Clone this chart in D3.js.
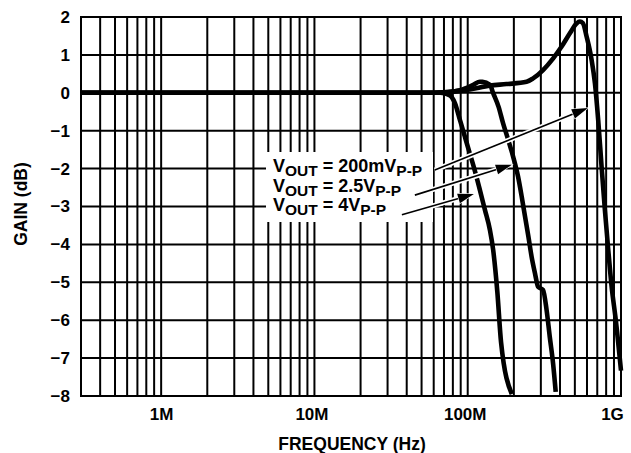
<!DOCTYPE html>
<html>
<head>
<meta charset="utf-8">
<script src="https://cdn.jsdelivr.net/npm/d3@7"></script>
<style>
  html, body { margin: 0; padding: 0; background: #fff; }
  svg text { font-family: "Liberation Sans", Arial, Helvetica, sans-serif; font-weight: bold; fill: #000; }
</style>
</head>
<body>
<svg id="chart" width="631" height="453"></svg>
<script>
// ---- data (frequency in MHz, gain in dB) ----
const freq4V   = [0.3, 10, 50, 66, 76, 82.5, 89, 96, 103, 111, 120, 129.5, 139.6, 146.6, 156, 165, 194];
const gain4V   = [0, 0, 0, 0, -0.06, -0.27, -0.72, -1.17, -1.59, -2.04, -2.56, -3.09, -3.62, -4.15, -5.25, -6.58, -7.95];

const freq2V5  = [0.3, 10, 60, 75, 89, 108.6, 120, 125, 139.6, 146.6, 159, 170, 184, 198, 213, 225, 236.6, 249, 261, 274.6, 288, 310, 327, 343, 360.5, 375];
const gain2V5  = [0, 0, 0, 0.02, 0.07, 0.21, 0.29, 0.29, 0.21, -0.01, -0.37, -0.80, -1.25, -1.69, -2.21, -2.74, -3.27, -3.80, -4.32, -4.76, -5.12, -5.20, -5.73, -6.44, -7.14, -7.89];

const freq200m = [0.3, 10, 60, 80, 103, 139.6, 179, 242, 267, 310, 361, 410, 464, 513, 539, 564, 597, 643, 676, 710, 747, 785, 826, 869, 925, 1000];
const gain200m = [0, 0, 0, 0.03, 0.09, 0.19, 0.23, 0.29, 0.38, 0.60, 0.91, 1.22, 1.57, 1.83, 1.88, 1.84, 1.48, 0.87, 0.25, -0.72, -1.95, -3.09, -4.15, -5.12, -6.0, -7.33];

const xTickValues = [1, 10, 100, 1000];
const xTickLabels = ["1M", "10M", "100M", "1G"];
const yTickValues = [2, 1, 0, -1, -2, -3, -4, -5, -6, -7, -8];

const legendLabels = [
  { main: "V", sub: "OUT", mid: " = 200mV", sub2: "P-P" },
  { main: "V", sub: "OUT", mid: " = 2.5V", sub2: "P-P" },
  { main: "V", sub: "OUT", mid: " = 4V", sub2: "P-P" }
];
// arrow start/end in data coordinates (MHz, dB)
const arrowFrom = [[61, -2.04], [45.2, -2.70], [37.2, -3.22]];
const arrowTo   = [[608, -0.40], [194, -1.90], [109.7, -2.67]];

// ---- layout ----
const L = 81, R = 621, T = 17, B = 396;
const xLabelShift = [0, -3, -3, -9];
const svg = d3.select("#chart");

const x = d3.scaleLog().domain([0.3, 1000]).range([L, R]);
const y = d3.scaleLinear().domain([-8, 2]).range([B, T]);

// grid verticals: every 1..9 multiple per decade
const vGrid = [];
[0.1, 1, 10, 100].forEach(d => {
  for (let k = 1; k <= 9; k++) {
    const v = d * k;
    if (v > 0.3 + 1e-9 && v < 1000 - 1e-9) vGrid.push(v);
  }
});

const grid = svg.append("g");
grid.selectAll("line.v").data(vGrid).enter().append("line")
  .attr("x1", d => x(d)).attr("x2", d => x(d))
  .attr("y1", T).attr("y2", B)
  .attr("stroke", "#000").attr("stroke-width", 2);
grid.selectAll("line.h").data(yTickValues).enter().append("line")
  .attr("x1", L).attr("x2", R)
  .attr("y1", d => y(d)).attr("y2", d => y(d))
  .attr("stroke", "#000").attr("stroke-width", 2);
svg.append("rect").attr("x", L).attr("y", T).attr("width", R - L).attr("height", B - T)
  .attr("fill", "none").attr("stroke", "#000").attr("stroke-width", 2);

// white box behind legend text
svg.append("rect").attr("x", 266).attr("y", 152).attr("width", 167).attr("height", 70).attr("fill", "#fff");

// axes labels
const yAxis = d3.axisLeft(y).tickValues(yTickValues).tickSize(0).tickPadding(11).tickFormat(d3.format("d"));
const gy = svg.append("g").attr("transform", `translate(${L},0)`).call(yAxis);
gy.select(".domain").remove();
gy.selectAll("text").style("font-size", "17px").style("font-family", "Liberation Sans, Arial, sans-serif").style("font-weight", "bold");

const xAxis = d3.axisBottom(x).tickValues(xTickValues).tickSize(0).tickPadding(12)
  .tickFormat((d, i) => xTickLabels[i]);
const gx = svg.append("g").attr("transform", `translate(0,${B})`).call(xAxis);
gx.select(".domain").remove();
gx.selectAll("text").style("font-size", "17px").style("font-family", "Liberation Sans, Arial, sans-serif").style("font-weight", "bold")
  .attr("dx", (d, i) => xLabelShift[i]);

svg.append("text").attr("x", (L + R) / 2 + 1).attr("y", 450)
  .attr("text-anchor", "middle").style("font-size", "17.5px").text("FREQUENCY (Hz)");
svg.append("text").attr("transform", "translate(27,204) rotate(-90)")
  .attr("text-anchor", "middle").style("font-size", "17.5px").text("GAIN (dB)");

// curves
const line = d3.line().x(d => x(d[0])).y(d => y(d[1])).curve(d3.curveMonotoneX);
const series = [
  d3.zip(freq4V, gain4V),
  d3.zip(freq2V5, gain2V5),
  d3.zip(freq200m, gain200m)
];
svg.append("g").selectAll("path").data(series).enter().append("path")
  .attr("d", line).attr("fill", "none").attr("stroke", "#000")
  .attr("stroke-width", 4.6).attr("stroke-linejoin", "round").attr("stroke-linecap", "butt");

// legend text
const lg = svg.append("g");
legendLabels.forEach((lab, i) => {
  const t = lg.append("text").attr("x", 273).attr("y", 172 + i * 19.7).style("font-size", "18px");
  t.append("tspan").text(lab.main);
  t.append("tspan").attr("dy", 4).style("font-size", "15.5px").text(lab.sub);
  t.append("tspan").attr("dy", -4).text(lab.mid);
  t.append("tspan").attr("dy", 4).style("font-size", "15.5px").text(lab.sub2);
});

// arrows
const ag = svg.append("g");
arrowFrom.forEach((p, i) => {
  const x1 = x(p[0]), y1 = y(p[1]);
  const x2 = x(arrowTo[i][0]), y2 = y(arrowTo[i][1]);
  const ang = Math.atan2(y2 - y1, x2 - x1);
  const headL = 16, headW = 5;
  const bx = x2 - headL * Math.cos(ang), by = y2 - headL * Math.sin(ang);
  // white halo
  ag.append("line").attr("x1", x1).attr("y1", y1).attr("x2", bx).attr("y2", by)
    .attr("stroke", "#fff").attr("stroke-width", 5);
  ag.append("line").attr("x1", x1).attr("y1", y1).attr("x2", bx).attr("y2", by)
    .attr("stroke", "#000").attr("stroke-width", 1.6);
  const px = -Math.sin(ang), py = Math.cos(ang);
  const pts = [[x2, y2], [bx + px * headW, by + py * headW], [bx - px * headW, by - py * headW]];
  ag.append("path").attr("d", "M" + pts.map(q => q.join(",")).join("L") + "Z")
    .attr("fill", "#000").attr("stroke", "#fff").attr("stroke-width", 1.2).attr("paint-order", "stroke");
});
</script>
</body>
</html>
